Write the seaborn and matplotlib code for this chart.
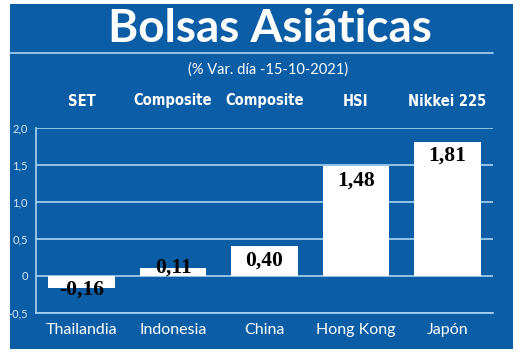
import matplotlib; matplotlib.use('Agg')
import matplotlib.pyplot as plt
import seaborn as sns
import pandas as pd
from matplotlib.patches import Rectangle
from matplotlib.lines import Line2D

paises  = ['Thailandia', 'Indonesia', 'China', 'Hong Kong', 'Japón']
indices = ['SET', 'Composite', 'Composite', 'HSI', 'Nikkei 225']
var     = [-0.16, 0.11, 0.40, 1.48, 1.81]
yticks  = [-0.5, 0, 0.5, 1.0, 1.5, 2.0]
ylabels = ['-0,5', '0', '0,5', '1,0', '1,5', '2,0']

BLUE = '#0b5ea6'
GRID = '#a9d6f2'
W, H = 520, 354

sns.set_theme(style='white')
plt.rcParams['font.family'] = ['Lato', 'DejaVu Sans']

fig = plt.figure(figsize=(W/100, H/100), dpi=100, facecolor='white')
fig.patches.append(Rectangle((10/W, 1-349/H), 503/W, 345/H, transform=fig.transFigure,
                             facecolor=BLUE, edgecolor='none', zorder=-10))
fig.lines.append(Line2D([10/W, 493/W], [1-53/H, 1-53/H], transform=fig.transFigure,
                        color=GRID, lw=1.2, zorder=-5))
fig.text(270/W, 1-29/H, 'Bolsas Asiáticas', color='white', fontsize=33,
         fontweight='bold', ha='center', va='center')
fig.text(268/W, 1-70/H, '(% Var. día -15-10-2021)', color='white', fontsize=10.5,
         ha='center', va='center')

ax = fig.add_axes([36/W, 1-313/H, 457/W, 185/H])
ax.set_zorder(5)
ax.set_facecolor('none')
df = pd.DataFrame({'pais': paises, 'var': var})
sns.barplot(data=df, x='pais', y='var', color='white', saturation=1, width=0.73,
            edgecolor='none', ax=ax, zorder=3)
ax.set_xlim(-0.5, 4.5)
ax.set_ylim(-0.5, 2.0)
ax.set_yticks(yticks)
ax.set_yticklabels(ylabels, color='#dce9f5', fontsize=8)
ax.tick_params(axis='both', length=0)
ax.tick_params(axis='y', pad=6)
ax.tick_params(axis='x', pad=7)
for lab in ax.get_xticklabels():
    lab.set_color('white'); lab.set_fontsize(11.5)
ax.set_xlabel(''); ax.set_ylabel('')
for y in yticks:
    ax.axhline(y, color=GRID, lw=1.2, zorder=1)
for s in ['top', 'right']:
    ax.spines[s].set_visible(False)
for s in ['left', 'bottom']:
    ax.spines[s].set_color(GRID); ax.spines[s].set_linewidth(1.2)

head_y = 2.0 + 27/185*2.5
for i, (v, idx) in enumerate(zip(var, indices)):
    txt = f'{v:.2f}'.replace('.', ',')
    if v < 0:
        yy, va = v - 0.03, 'center'
    elif v < 0.3:
        yy, va = v - 0.06, 'baseline'
    else:
        yy, va = v - 0.05, 'top'
    ax.text(i, yy, txt, ha='center', va=va, fontsize=15.5, fontweight='bold',
            color='black', family=['Liberation Serif', 'DejaVu Serif'], zorder=4)
    ax.text(i, head_y, idx, ha='center', va='center', clip_on=False,
            color='white', fontsize=10.5, fontweight='bold', fontstretch='condensed',
            family=['DejaVu Sans'])

fig.savefig('out.png', dpi=100, facecolor='white')
